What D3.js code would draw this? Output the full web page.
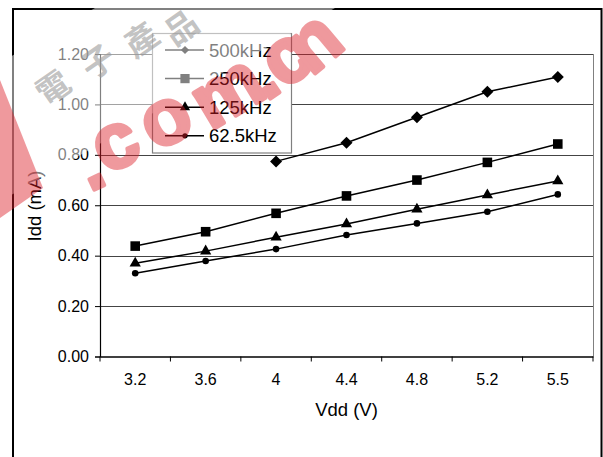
<!DOCTYPE html>
<html><head><meta charset="utf-8">
<script src="https://cdn.jsdelivr.net/npm/d3@7"></script>
<style>
html,body{margin:0;padding:0;background:#fff;}
svg{display:block;font-family:"Liberation Sans",Arial,sans-serif;}
</style></head>
<body><svg id="c" width="603" height="457"></svg>
<script>
const categories = ["3.2","3.6","4","4.4","4.8","5.2","5.5"];
const seriesNames = ["500kHz","250kHz","125kHz","62.5kHz"];
const s500 = [null,null,0.774,0.848,0.949,1.050,1.109];
const s250 = [0.438,0.495,0.568,0.637,0.700,0.770,0.843];
const s125 = [0.370,0.418,0.473,0.526,0.584,0.641,0.696];
const s62  = [0.330,0.379,0.426,0.482,0.528,0.574,0.643];
const yTicks = [0,0.2,0.4,0.6,0.8,1.0,1.2];
const xTitle = "Vdd (V)";
const yTitle = "Idd (mA)";
const wmLetters = [".","c","o","m",".","c","n"];
const wmChars = ["電","子","產","品"];

const series = [
  {name: seriesNames[0], values: s500, shape: "diamond"},
  {name: seriesNames[1], values: s250, shape: "square"},
  {name: seriesNames[2], values: s125, shape: "triangle"},
  {name: seriesNames[3], values: s62,  shape: "circle"}
];

const svg = d3.select("#c");
const L = 100, R = 593, T = 54, B = 356.5;
const x = d3.scaleBand().domain(categories).range([L, R]).padding(0);
const y = d3.scaleLinear().domain([0, 1.2]).range([B, T]);

// outer frame
svg.append("rect").attr("x",13).attr("y",9).attr("width",588.5).attr("height",470)
  .attr("fill","none").attr("stroke","#000").attr("stroke-width",2);

// gridlines
svg.append("g").selectAll("line").data(yTicks.filter(d=>d>0)).join("line")
  .attr("x1",L).attr("x2",R).attr("y1",d=>Math.round(y(d))+0.5).attr("y2",d=>Math.round(y(d))+0.5)
  .attr("stroke","#444").attr("stroke-width",1);
svg.append("line").attr("x1",R+0.5).attr("x2",R+0.5).attr("y1",T).attr("y2",B)
  .attr("stroke","#808080").attr("stroke-width",1);

// y axis
const yAxis = d3.axisLeft(y).tickValues(yTicks).tickFormat(d3.format(".2f")).tickSize(5).tickPadding(6);
const gy = svg.append("g").attr("transform",`translate(${L},0)`).call(yAxis);
gy.select(".domain").attr("stroke","#000").attr("stroke-width",1.2);
gy.selectAll(".tick line").attr("stroke","#000");
gy.selectAll("text").attr("font-size",16).attr("font-family","Liberation Sans, Arial").attr("fill","#000");

// x axis
const xAxis = d3.axisBottom(x).tickSize(0).tickPadding(17);
const gx = svg.append("g").attr("transform",`translate(0,${B})`).call(xAxis);
gx.select(".domain").attr("stroke","#000").attr("stroke-width",1.5);
gx.selectAll("text").attr("font-size",16).attr("font-family","Liberation Sans, Arial").attr("fill","#000");
const bounds = categories.map(c => x(c)).concat([x(categories[categories.length-1]) + x.bandwidth()]);
gx.selectAll(".btick").data(bounds).join("line").attr("class","btick")
  .attr("x1",d=>d).attr("x2",d=>d).attr("y1",0).attr("y2",5).attr("stroke","#000");

// axis titles
svg.append("text").attr("x",(L+R)/2).attr("y",416).attr("text-anchor","middle")
  .attr("font-size",18.5).text(xTitle);
svg.append("text").attr("transform","translate(41,206) rotate(-90)").attr("text-anchor","middle")
  .attr("font-size",18.5).text(yTitle);

function markerPath(shape, big) {
  const sz = big ? {diamond:72, square:92, triangle:55, circle:34} : {diamond:34, square:85, triangle:45, circle:22};
  const sym = {diamond:d3.symbolSquare, square:d3.symbolSquare, triangle:d3.symbolTriangle, circle:d3.symbolCircle}[shape];
  return d3.symbol().type(sym).size(sz[shape])();
}

const line = d3.line().defined(d => d.v != null).x(d => x(d.c) + x.bandwidth()/2).y(d => y(d.v));
series.forEach(s => {
  const pts = categories.map((c,i) => ({c, v: s.values[i]}));
  svg.append("path").datum(pts).attr("d", line).attr("fill","none").attr("stroke","#000").attr("stroke-width",1.5);
  svg.append("g").selectAll("path").data(pts.filter(p => p.v != null)).join("path")
    .attr("d", markerPath(s.shape, true))
    .attr("transform", p => `translate(${x(p.c)+x.bandwidth()/2},${y(p.v)})` + (s.shape==="diamond" ? " rotate(45)" : ""))
    .attr("fill","#000");
});

// legend
const lg = svg.append("g");
lg.append("rect").attr("x",152.5).attr("y",33.5).attr("width",139).attr("height",119.5)
  .attr("fill","#fff").attr("stroke","#808080").attr("stroke-width",1.2);
series.forEach((s,i) => {
  const cy = 50 + i*28.6;
  lg.append("line").attr("x1",165).attr("x2",204).attr("y1",cy).attr("y2",cy).attr("stroke","#000").attr("stroke-width",1.5);
  lg.append("path").attr("d", markerPath(s.shape, false))
    .attr("transform", `translate(185,${cy})` + (s.shape==="diamond" ? " rotate(45)" : "")).attr("fill","#000");
  lg.append("text").attr("x",209).attr("y",cy+6.5).attr("font-size",18.5).text(s.name);
});

// watermark
const wm = svg.append("g").attr("pointer-events","none");
wm.append("rect").attr("transform","translate(215,8) rotate(-30)")
  .attr("x",-420).attr("y",-60).attr("width",840).attr("height",120)
  .attr("fill","#fff").attr("fill-opacity",0.5);
const charPos = [[52,86],[97,60],[140,38],[180,26]];
wmChars.forEach((ch,i) => {
  wm.append("text").attr("transform",`translate(${charPos[i][0]},${charPos[i][1]}) rotate(-35)`)
    .attr("text-anchor","middle").attr("dominant-baseline","central")
    .attr("font-family","Noto Sans CJK TC").attr("font-weight","bold").attr("font-size",33)
    .attr("fill","#9a9a9a").attr("fill-opacity",0.6).text(ch);
});
const pink = wm.append("g").attr("opacity",0.45);
pink.append("path").attr("d","M0,80 L43,188 L0,218 Z").attr("fill","rgb(220,30,40)");
const letterPos = [[88,163,-25],[114,141,-26],[164,117,-28],[226,90,-31],[260,73,-34],[285,56,-37],[312,41,-40]];
wmLetters.forEach((ch,i) => {
  const p = letterPos[i];
  pink.append("text").attr("transform",`translate(${p[0]},${p[1]}) rotate(${p[2]})`)
    .attr("text-anchor","middle").attr("dominant-baseline","central")
    .attr("font-family","Liberation Sans, Arial").attr("font-weight","bold").attr("font-size",78)
    .attr("fill","rgb(220,30,40)").attr("stroke","rgb(220,30,40)").attr("stroke-width",4)
    .attr("stroke-linejoin","round").text(ch);
});
</script></body></html>
